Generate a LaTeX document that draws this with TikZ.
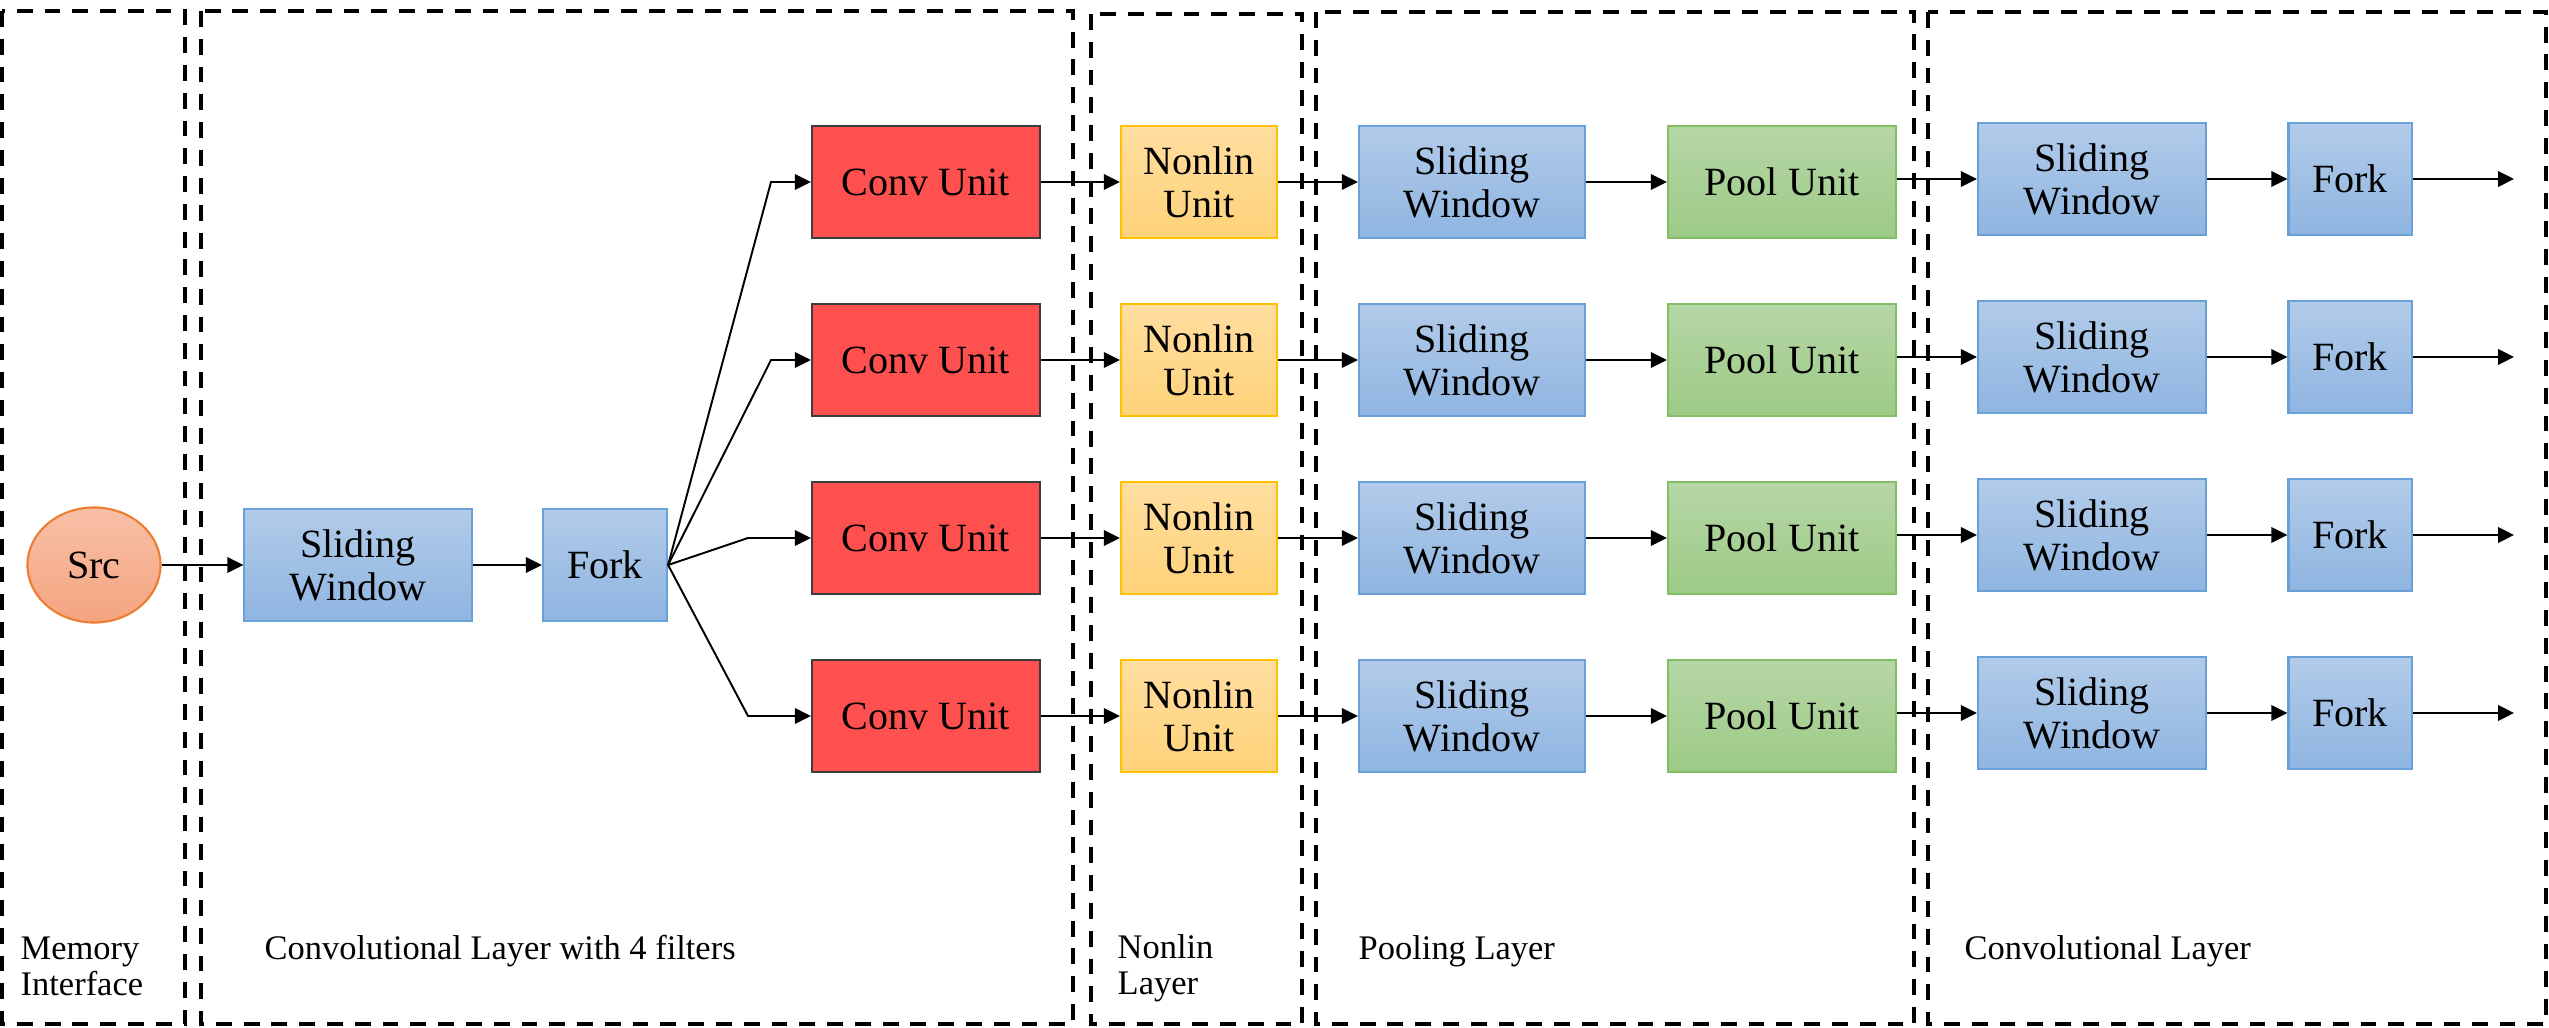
\documentclass[tikz,border=0pt]{standalone}
\usepackage{fontspec}
\setmainfont{Liberation Serif}
\usetikzlibrary{arrows.meta,shapes.geometric}
\definecolor{bluetop}{RGB}{178,203,233}
\definecolor{bluebot}{RGB}{143,181,225}
\definecolor{blueline}{RGB}{106,160,216}
\definecolor{convred}{RGB}{255,80,80}
\definecolor{convline}{RGB}{60,60,60}
\definecolor{nltop}{RGB}{255,222,160}
\definecolor{nlbot}{RGB}{254,210,120}
\definecolor{nlline}{RGB}{255,192,0}
\definecolor{pooltop}{RGB}{182,214,166}
\definecolor{poolbot}{RGB}{157,202,134}
\definecolor{poolline}{RGB}{130,190,100}
\definecolor{srctop}{RGB}{248,192,166}
\definecolor{srcbot}{RGB}{244,164,128}
\definecolor{srcline}{RGB}{237,125,49}
\begin{document}
\begin{tikzpicture}[x=0.01cm,y=-0.01cm,
  unit/.style={draw, rectangle, inner sep=0pt, align=center, minimum height=1.12cm,
    font=\fontsize{11.4}{12.2}\selectfont, line width=0.6pt},
  bluebox/.style={unit, top color=bluetop, bottom color=bluebot, draw=blueline},
  convbox/.style={unit, fill=convred, draw=convline, minimum width=2.28cm},
  nlbox/.style={unit, top color=nltop, bottom color=nlbot, draw=nlline, minimum width=1.56cm},
  poolbox/.style={unit, top color=pooltop, bottom color=poolbot, draw=poolline, minimum width=2.28cm},
  frame/.style={line width=1.15pt, dash pattern=on 4.5pt off 3.4pt},
  conn/.style={line width=0.55pt, -{Triangle[length=0.16cm,width=0.155cm]}},
  lbl/.style={anchor=west, align=left, inner sep=0pt, font=\fontsize{9.8}{10.2}\selectfont}
]
\useasboundingbox (0,0) rectangle (2549,1028);
% layer frames
\draw[frame] (2,11) rectangle (185,1024);
\draw[frame] (201,11) rectangle (1073,1024);
\draw[frame] (1091,14) rectangle (1302,1024);
\draw[frame] (1316,12) rectangle (1914,1024);
\draw[frame] (1928,12) rectangle (2546,1024);
% layer labels
\node[lbl] (lmem) at (20,966) {Memory\\Interface};
\node[lbl] (lconv) at (264,951) {Convolutional Layer with 4 filters};
\node[lbl] (lnl) at (1117,968) {Nonlin\\Layer};
\node[lbl] (lpool) at (1358,951) {Pooling Layer};
\node[lbl] (lconvb) at (1964,951) {Convolutional Layer};
% input chain
\node[ellipse, draw=srcline, top color=srctop, bottom color=srcbot, line width=0.6pt,
  minimum width=1.33cm, minimum height=1.15cm, inner sep=0pt,
  font=\fontsize{11.4}{12.2}\selectfont] (src) at (94,565) {Src};
\node[bluebox, minimum width=2.27cm] (swa) at (358,565) {Sliding\\Window};
\node[bluebox, minimum width=1.24cm] (forka) at (605,565) {Fork};
\draw[conn] (src) -- (swa);
\draw[conn] (swa) -- (forka);
% four rows
\foreach \i/\y/\bx in {1/182/771,2/360/771,3/538/748,4/716/748}{
  \node[convbox] (conv\i) at (926,\y) {Conv Unit};
  \node[nlbox] (nl\i) at (1199,\y) {Nonlin\\Unit};
  \node[bluebox, minimum width=2.26cm] (swb\i) at (1472,\y) {Sliding\\Window};
  \node[poolbox] (pool\i) at (1782,\y) {Pool Unit};
  \node[bluebox, minimum width=2.28cm] (swc\i) at (2092,\y-3) {Sliding\\Window};
  \node[bluebox, minimum width=1.23cm] (forkc\i) at (2350,\y-3) {Fork};
  \coordinate (bend\i) at (\bx,\y);
  \coordinate (out\i) at (2514,\y-3);
  \draw[conn] (forka.east) -- (bend\i) -- (conv\i.west);
  \draw[conn] (conv\i) -- (nl\i);
  \draw[conn] (nl\i) -- (swb\i);
  \draw[conn] (swb\i) -- (pool\i);
  \draw[conn] (pool\i.east |- swc\i.west) -- (swc\i.west);
  \draw[conn] (swc\i) -- (forkc\i);
  \draw[conn] (forkc\i) -- (out\i);
}
\end{tikzpicture}
\end{document}
